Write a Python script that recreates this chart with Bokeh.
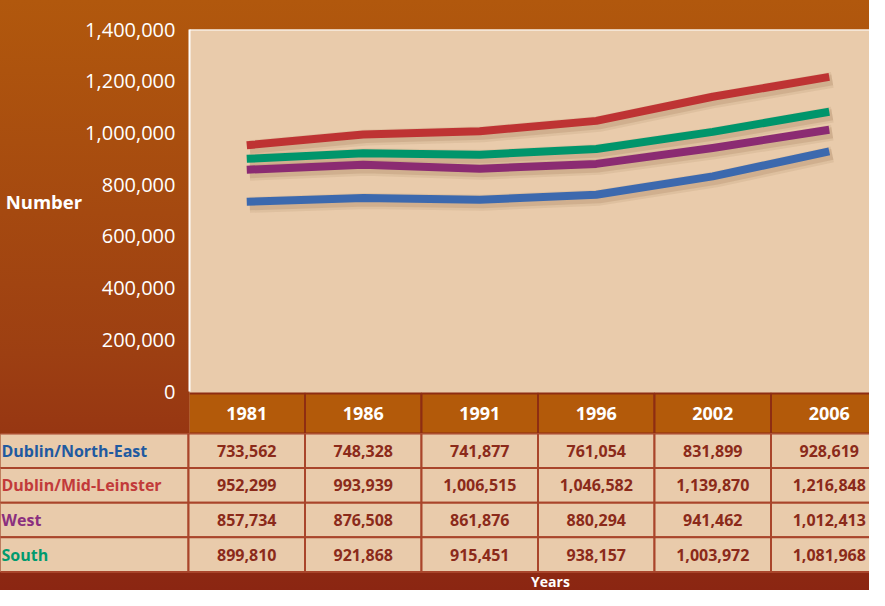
import numpy as np
from bokeh.plotting import figure
from bokeh.models import Range1d, FixedTicker, NumeralTickFormatter, Span, Column
from bokeh.core.properties import value
from bokeh.embed import file_html
from bokeh.resources import INLINE

# ---------------- data ----------------
years = ["1981", "1986", "1991", "1996", "2002", "2006"]
series_names = ["Dublin/North-East", "Dublin/Mid-Leinster", "West", "South"]
dublin_north_east = [733562, 748328, 741877, 761054, 831899, 928619]
dublin_mid_leinster = [952299, 993939, 1006515, 1046582, 1139870, 1216848]
west = [857734, 876508, 861876, 880294, 941462, 1012413]
south = [899810, 921868, 915451, 938157, 1003972, 1081968]
y_ticks = [0, 200000, 400000, 600000, 800000, 1000000, 1200000, 1400000]
y_axis_title = "Number"
x_axis_title = "Years"

series = [dublin_north_east, dublin_mid_leinster, west, south]
line_colors = ["#3C69AE", "#BE3333", "#8B2B72", "#00956B"]
label_colors = ["#1F5AA0", "#C23A3A", "#8B2F7F", "#009A6E"]
draw_order = [0, 2, 3, 1]

FONT = value("Open Sans")
PEACH = "#E9CBAB"
HEADER = "#B35A0A"
TEXT_DARK = "#8B2A1A"

# layout constants (pixels)
FIG_W = 869
COL_W = 116.5           # width of one year column
TABLE_X0 = 188          # x where the first year column starts
FRAME_L = 189
FRAME_T = 29
PLOT_H = 362            # pixel height of the value area
HEAD_H = 40
HEAD_GAP = 2
CHART_H = FRAME_T + PLOT_H + HEAD_GAP + HEAD_H   # 433
TABLE_H = 590 - CHART_H
ROW_H = 34.6

ymax = max(y_ticks)
U = ymax / PLOT_H       # data units per pixel
xs = np.arange(len(years)) + 0.5

# ---------------- chart (with header row) ----------------
p = figure(width=FIG_W, height=CHART_H, output_backend="svg", toolbar_location=None,
           x_range=Range1d((FRAME_L - TABLE_X0) / COL_W, (FIG_W - TABLE_X0) / COL_W),
           y_range=Range1d(-(HEAD_GAP + HEAD_H) * U, ymax),
           x_axis_location=None, y_axis_location="left",
           min_border_left=FRAME_L, min_border_right=0, min_border_top=FRAME_T, min_border_bottom=0)
p.frame_align = False
p.background_fill_color = PEACH
p.border_fill_alpha = 0
p.outline_line_color = None
p.xgrid.visible = False
p.ygrid.visible = False

ax = p.yaxis[0]
ax.ticker = FixedTicker(ticks=y_ticks)
ax.formatter = NumeralTickFormatter(format="0,0")
ax.bounds = (0, ymax)
ax.axis_line_color = "white"
ax.axis_line_width = 2
ax.major_tick_line_color = None
ax.minor_tick_line_color = None
ax.major_tick_out = 0
ax.major_tick_in = 0
ax.minor_tick_out = 0
ax.minor_tick_in = 0
ax.major_label_standoff = 14
ax.major_label_text_color = "white"
ax.major_label_text_font = "Open Sans"
ax.major_label_text_font_size = "20px"
# the extra empty lines lift the title above the frame's centre (the frame includes the header row)
ax.axis_label = y_axis_title + "\n\n"
ax.axis_label_orientation = "horizontal"
ax.axis_label_text_color = "white"
ax.axis_label_text_font = "Open Sans"
ax.axis_label_text_font_style = "bold"
ax.axis_label_text_font_size = "18.5px"
ax.axis_label_standoff = 0

p.add_layout(Span(location=ymax, dimension="width", line_color="white", line_width=2))

dx = 3 / COL_W
dy = 3 * U
for i in draw_order:
    vals = np.array(series[i], dtype=float)
    p.line(xs + dx, vals - dy, line_color="#6B3A1A", line_alpha=0.08, line_width=16, line_join="round")
    p.line(xs + dx, vals - dy, line_color="#6B3A1A", line_alpha=0.12, line_width=11, line_join="round")
for i in draw_order:
    p.line(xs, series[i], line_color=line_colors[i], line_width=8, line_cap="butt", line_join="round")

# header row of the table (below the zero line)
head_y = -(HEAD_GAP + HEAD_H / 2) * U
p.rect(x=xs, y=head_y, width=1, height=HEAD_H * U, fill_color=HEADER,
       line_color="#8E2D12", line_width=2)
p.text(x=xs, y=[head_y] * len(years), text=years, text_font=FONT, text_font_style="bold",
       text_font_size="18px", text_color="white", text_align="center", text_baseline="middle")

# ---------------- table body ----------------
t = figure(width=FIG_W, height=TABLE_H, output_backend="svg", toolbar_location=None,
           x_range=Range1d(-TABLE_X0 / COL_W, (FIG_W - TABLE_X0) / COL_W),
           y_range=Range1d(-TABLE_H, 0),
           x_axis_location=None, y_axis_location=None,
           min_border=0)
t.frame_align = False
t.background_fill_alpha = 0
t.border_fill_alpha = 0
t.outline_line_color = None
t.xgrid.visible = False
t.ygrid.visible = False

cx, cy, ctext, label_y = [], [], [], []
for r, vals in enumerate(series):
    yc = -(ROW_H * r + ROW_H / 2)
    label_y.append(yc)
    for c, v in enumerate(vals):
        cx.append(xs[c])
        cy.append(yc)
        ctext.append(f"{v:,}")

lab_w = 2.0
t.rect(x=[-lab_w / 2] * len(series_names), y=label_y, width=lab_w, height=ROW_H,
       fill_color=PEACH, line_color="#A9452B", line_width=2)
t.rect(x=cx, y=cy, width=1, height=ROW_H, fill_color=PEACH, line_color="#A9452B", line_width=2)
t.text(x=cx, y=cy, text=ctext, text_font=FONT, text_font_style="bold", text_font_size="16px",
       text_color=TEXT_DARK, text_align="center", text_baseline="middle")
t.text(x=[(1 - TABLE_X0) / COL_W] * len(series_names), y=label_y, text=series_names,
       text_font=FONT, text_font_style="bold", text_font_size="16px",
       text_color=label_colors, text_align="left", text_baseline="middle")

# x-axis title
years_y = -(ROW_H * len(series) + (TABLE_H - ROW_H * len(series)) / 2)
t.text(x=[(550 - TABLE_X0) / COL_W], y=[years_y], text=[x_axis_title],
       text_font=FONT, text_font_style="bold", text_font_size="14px",
       text_color="white", text_align="center", text_baseline="middle")

layout = Column(children=[p, t], spacing=0,
                styles={"background": "linear-gradient(to bottom, #B1580D 0%, #9D3F12 60%, #8B2612 100%)"})

open("out.html", "w").write(file_html(layout, INLINE))
